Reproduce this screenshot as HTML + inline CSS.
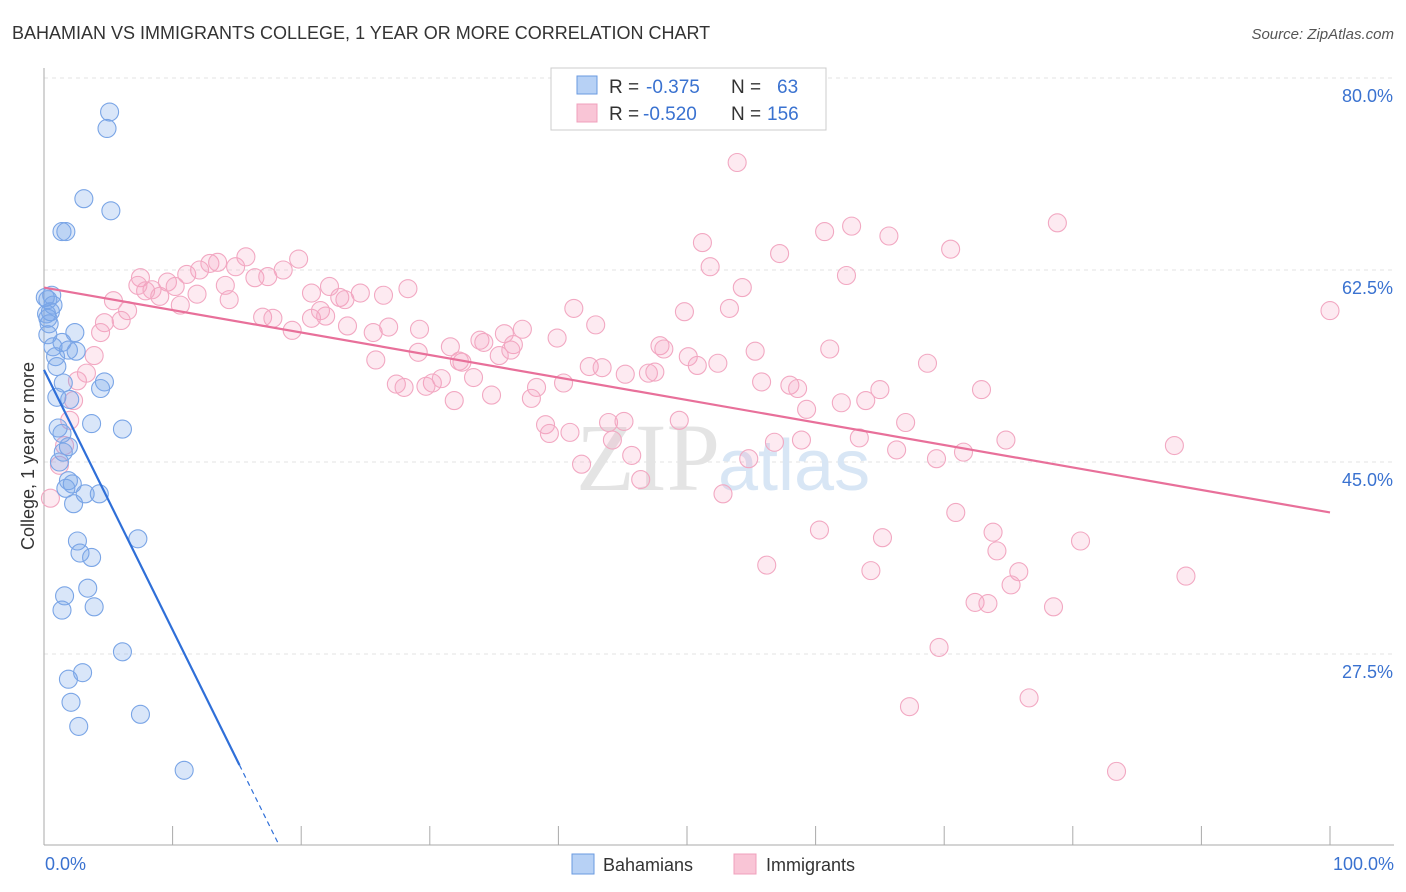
<!DOCTYPE html>
<html><head><meta charset="utf-8"><style>
body{margin:0;background:#fff;font-family:"Liberation Sans",sans-serif;}
#c{position:absolute;left:0;top:0;}
</style></head><body>
<svg id="c" width="1406" height="892" xmlns="http://www.w3.org/2000/svg">
<text x="12" y="39" font-size="18" fill="#333">BAHAMIAN VS IMMIGRANTS COLLEGE, 1 YEAR OR MORE CORRELATION CHART</text>
<text x="1394" y="39" font-size="15" fill="#555" text-anchor="end" font-style="italic">Source: ZipAtlas.com</text>
<g id="grid"></g>
<text x="720" y="490" font-size="96" fill="#e4e4e4" text-anchor="end" font-family="Liberation Serif">ZIP</text>
<text x="718" y="490" font-size="72" fill="#d8e6f5">atlas</text>
<g id="pts"></g>
<g id="lines"></g>
<text transform="translate(34,456) rotate(-90)" font-size="18" fill="#333" text-anchor="middle">College, 1 year or more</text>
<g>
<rect x="551" y="68" width="275" height="62" fill="#fff" stroke="#ccc"/>
<rect x="577" y="76" width="20" height="18" fill="#b7d1f5" stroke="#6a9ae0"/>
<rect x="577" y="104" width="20" height="18" fill="#f9c5d6" stroke="#f0a0bc"/>
<text x="609" y="93" font-size="19" fill="#333">R =</text>
<text x="646" y="93" font-size="19" fill="#3a72d0">-0.375</text>
<text x="731" y="93" font-size="19" fill="#333">N =</text>
<text x="777" y="93" font-size="19" fill="#3a72d0">63</text>
<text x="609" y="120" font-size="19" fill="#333">R =</text>
<text x="643" y="120" font-size="19" fill="#3a72d0">-0.520</text>
<text x="731" y="120" font-size="19" fill="#333">N =</text>
<text x="767" y="120" font-size="19" fill="#3a72d0">156</text>
</g>
<g>
<rect x="572" y="854" width="22" height="20" fill="#b7d1f5" stroke="#6a9ae0"/>
<text x="603" y="871" font-size="18" fill="#333">Bahamians</text>
<rect x="734" y="854" width="22" height="20" fill="#f9c5d6" stroke="#f0a0bc"/>
<text x="766" y="871" font-size="18" fill="#333">Immigrants</text>
</g>
</svg>
<script>
const yTicks=[80,62.5,45,27.5];
const yTickLabels=["80.0%","62.5%","45.0%","27.5%"];
const xTickLabels=["0.0%","100.0%"];
const bahX=[5.1,4.9,3.1,5.2,1.4,1.7,0.6,0.3,0.7,0.5,0.3,2.4,0.3,1.4,0.7,1.9,2.5,0.9,1.0,1.5,4.7,4.4,1.0,2.0,3.7,6.1,1.1,1.4,1.9,1.5,1.2,1.9,2.2,1.7,3.2,4.3,2.3,2.6,7.3,2.8,3.7,1.6,3.4,1.4,3.9,6.1,3.0,1.9,2.1,7.5,2.7,10.9,0.1,0.2,0.4];
const bahY=[76.9,75.4,69.0,67.9,66.0,66.0,60.2,59.8,59.3,58.7,58.1,56.8,56.6,55.9,55.5,55.2,55.1,54.6,53.7,52.2,52.3,51.7,50.9,50.7,48.5,48.0,48.1,47.6,46.4,45.9,45.0,43.3,43.0,42.6,42.1,42.1,41.2,37.8,38.0,36.7,36.3,32.8,33.5,31.5,31.8,27.7,25.8,25.2,23.1,22.0,20.9,16.9,60.0,58.5,57.6];
const immX=[53.9,78.8,62.8,60.7,65.7,51.2,70.5,57.2,51.8,62.4,54.3,100,49.8,53.3,41.2,42.9,55.3,61.1,68.7,72.9,55.8,58.0,58.6,65.0,59.3,62.0,63.9,67.0,74.8,63.4,58.9,56.8,66.3,69.4,71.5,54.8,87.9,52.8,60.3,70.9,73.8,65.2,74.1,80.6,56.2,64.3,75.8,88.8,75.2,72.4,73.4,78.5,69.6,67.3,76.6,83.4,
7.5,8.4,9.0,7.9,9.6,10.2,11.1,12.1,12.9,13.5,14.9,15.7,16.4,17.4,18.6,19.8,20.8,22.2,23.0,23.4,24.6,26.4,28.3,5.4,6.5,4.7,6.0,4.4,3.9,3.3,2.6,2.3,2.0,1.6,1.2,0.5,7.3,10.6,11.9,14.4,14.1,17.0,17.8,19.3,20.8,21.5,21.9,23.6,25.6,26.8,29.2,25.8,29.1,31.6,33.9,34.2,35.8,37.2,36.5,32.5,35.4,36.3,32.3,27.4,28.0,30.2,30.9,33.4,29.7,31.9,34.8,38.3,37.9,40.4,39.9,42.4,43.4,45.2,47.0,47.5,47.9,48.2,50.1,50.8,52.4,43.9,45.1,49.4,39.0,39.3,40.9,44.2,45.7,41.8,46.4];
const immY=[72.3,66.8,66.5,66.0,65.6,65.0,64.4,64.0,62.8,62.0,60.9,58.8,58.7,59.0,59.0,57.5,55.1,55.3,54.0,51.6,52.3,52.0,51.7,51.6,49.8,50.4,50.6,48.6,47.0,47.2,47.0,46.8,46.1,45.3,45.9,45.3,46.5,42.1,38.8,40.4,38.6,38.1,36.9,37.8,35.6,35.1,35.0,34.6,33.8,32.2,32.1,31.8,28.1,22.7,23.5,16.8,
61.8,60.7,60.1,60.6,61.4,61.0,62.1,62.5,63.1,63.2,62.8,63.7,61.8,61.9,62.5,63.5,60.4,61.0,60.0,59.8,60.4,60.2,60.8,59.7,58.8,57.7,57.9,56.8,54.7,53.1,52.4,50.6,48.8,46.5,44.7,41.7,61.1,59.3,60.3,59.8,61.1,58.2,58.1,57.0,58.1,58.8,58.3,57.4,56.8,57.3,57.1,54.3,55.0,55.5,56.1,55.9,56.7,57.1,55.7,54.1,54.7,55.2,54.2,52.1,51.8,52.2,52.6,52.7,51.9,50.6,51.1,51.8,50.8,52.2,56.3,53.7,53.6,53.0,53.1,53.2,55.6,55.3,54.6,53.8,54.0,48.6,48.7,48.8,48.4,47.6,47.7,47.0,45.6,44.8,43.4];
const bahTrend=[53.4,-2.37];
const immTrend=[60.9,-0.205];
const NS="http://www.w3.org/2000/svg";
const X=v=>44+v*12.86;
const Y=v=>462-(v-45)*10.971;
function mk(t,a,p){const e=document.createElementNS(NS,t);for(const k in a)e.setAttribute(k,a[k]);p.appendChild(e);return e;}
const g=document.getElementById('grid');
yTicks.forEach((t,i)=>{
 const l=mk('line',{x1:44,x2:1394,y1:Y(t),y2:Y(t),stroke:'#e3e3e3','stroke-dasharray':'4,4'},g);
 
 
 const tx=mk('text',{x:1393,y:Y(t)+24,'font-size':18,fill:'#3a72d0','text-anchor':'end'},g);
 tx.textContent=yTickLabels[i];
 
 
});
const ax=mk('line',{x1:44,x2:44,y1:68,y2:845,stroke:'#aaa'},g);


const bx=mk('line',{x1:44,x2:1394,y1:845,y2:845,stroke:'#aaa'},g);


for(let i=0;i<=10;i++){const t=mk('line',{x1:X(i*10),x2:X(i*10),y1:826,y2:845,stroke:'#aaa'},g);
 
 }
[[0,'start',45],[100,'end',1394]].forEach((d,i)=>{const t=mk('text',{x:d[2],y:870,'font-size':18,fill:'#3a72d0','text-anchor':d[1]},g);t.textContent=xTickLabels[i];
 
 });
const p=document.getElementById('pts');
immX.forEach((x,i)=>{const c=mk('circle',{cx:X(x),cy:Y(immY[i]),r:9,fill:'rgba(244,160,190,0.22)',stroke:'#f2a8c2','stroke-width':1.1},p);
 
 });
bahX.forEach((x,i)=>{const c=mk('circle',{cx:X(x),cy:Y(bahY[i]),r:9,fill:'rgba(120,165,235,0.28)',stroke:'#7aa5e6','stroke-width':1.1},p);
 
 });
const L=document.getElementById('lines');
const bEnd=15.2, bZero=(bahTrend[0]-10.1)/-bahTrend[1];
const f=(t,x)=>t[0]+t[1]*x;
const b1=mk('line',{x1:X(0),y1:Y(f(bahTrend,0)),x2:X(bEnd),y2:Y(f(bahTrend,bEnd)),stroke:'#2f6fd8','stroke-width':2.2},L);


const b2=mk('line',{x1:X(bEnd),y1:Y(f(bahTrend,bEnd)),x2:X(bZero),y2:Y(f(bahTrend,bZero)),stroke:'#2f6fd8','stroke-width':1.2,'stroke-dasharray':'5,4'},L);


const i1=mk('line',{x1:X(0),y1:Y(f(immTrend,0)),x2:X(100),y2:Y(f(immTrend,100)),stroke:'#e8709a','stroke-width':2.2},L);


</script>
</body></html>
